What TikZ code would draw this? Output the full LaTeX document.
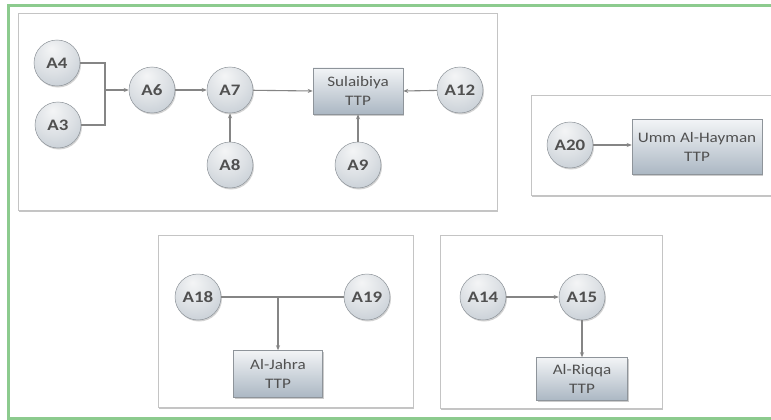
\documentclass[tikz,border=0pt]{standalone}
\usepackage{fontspec}
\setmainfont{Carlito}
\newfontfamily\widefont[FakeStretch=1.18]{Carlito}
\usetikzlibrary{shadows,arrows.meta}
\definecolor{frameg}{HTML}{8CCB8E}
\definecolor{boxline}{HTML}{C4C4C4}
\definecolor{linkc}{HTML}{858585}
\definecolor{txt}{HTML}{505050}
\definecolor{ballA}{HTML}{F4F5F6}
\definecolor{ballB}{HTML}{DCE0E4}
\definecolor{ballC}{HTML}{BCC5CE}
\definecolor{ballD}{HTML}{A4ADB7}
\definecolor{ttpTop}{HTML}{F2F4F6}
\definecolor{ttpBot}{HTML}{ABB7C3}
\definecolor{rimc}{HTML}{8E949A}
\pgfdeclareradialshading{myball}{\pgfpoint{-6bp}{16bp}}{color(0bp)=(ballA); color(22bp)=(ballB); color(44bp)=(ballC); color(58bp)=(ballD); color(70bp)=(ballD)}
\tikzset{
  panel/.style={draw=boxline, line width=0.8pt, fill=white, drop shadow={shadow xshift=1pt, shadow yshift=-2pt, opacity=0.45, fill=gray}},
  ball/.style={circle, minimum size=46pt, inner sep=0pt, draw=rimc, line width=0.5pt, shading=myball, text=txt, font=\widefont\fontsize{16}{16}\selectfont\bfseries, drop shadow={shadow xshift=1pt, shadow yshift=-1.5pt, opacity=0.35}},
  ttp/.style={rectangle, draw=rimc, line width=0.5pt, top color=ttpTop, bottom color=ttpBot, text=txt, font=\widefont\fontsize{14.5}{19}\selectfont, align=center, inner sep=2pt, drop shadow={shadow xshift=1.2pt, shadow yshift=-1.5pt, opacity=0.4}},
  link/.style={draw=linkc, line width=1.1pt, -{Stealth[length=5pt,width=4pt]}},
  plain/.style={draw=linkc, line width=1.1pt}
}
\begin{document}
\begin{tikzpicture}[x=1pt,y=-1pt]
\useasboundingbox (0,0) rectangle (771,420);
\fill[white] (0,0) rectangle (771,420);
% panels
\path[panel] (18,13) rectangle (497,210);
\path[panel] (531,95) rectangle (780,195);
\path[panel] (158,235) rectangle (413,407);
\path[panel] (440,235) rectangle (662,408);
% frame
\draw[frameg, line width=2.6pt] (780,5.5) -- (8.5,5.5) -- (8.5,418.5) -- (780,418.5);
% panel 1
\node[ball] (A4) at (57,63) {A4};
\node[ball] (A3) at (58,125) {A3};
\node[ball] (A6) at (152,90) {A6};
\node[ball] (A7) at (230,90) {A7};
\node[ball] (A8) at (230,165) {A8};
\node[ttp, minimum width=90pt, minimum height=46pt] (Sul) at (358,91) {Sulaibiya\\TTP};
\node[ball] (A12) at (460,90) {A12};
\node[ball] (A9) at (358,165) {A9};
\coordinate (j1) at (105,90);
\draw[plain] (A4.east) -| (j1);
\draw[plain] (A3.east) -| (j1);
\draw[link] (j1) -- (A6.west);
\draw[link] (A6) -- (A7);
\draw[link] (A7) -- (Sul.west);
\draw[link] (A8) -- (A7);
\draw[link] (A9) -- (Sul.south);
\draw[link] (A12) -- (Sul.east);
% panel 2
\node[ball] (A20) at (570,145) {A20};
\node[ttp, minimum width=130pt, minimum height=55pt] (Umm) at (697,147) {Umm Al-Hayman\\TTP};
\draw[link] (A20) -- (A20 -| Umm.west);
% panel 3
\node[ball] (A18) at (198,297) {A18};
\node[ball] (A19) at (367,297) {A19};
\node[ttp, minimum width=89pt, minimum height=47pt] (Jah) at (278,374) {Al-Jahra\\TTP};
\coordinate (j2) at (Jah.north |- A18);
\draw[plain] (A18) -- (A19);
\draw[link] (j2) -- (Jah.north);
% panel 4
\node[ball] (A14) at (483,297) {A14};
\node[ball] (A15) at (582,297) {A15};
\node[ttp, minimum width=91pt, minimum height=43pt] (Riq) at (582,379) {Al-Riqqa\\TTP};
\draw[link] (A14) -- (A15);
\draw[link] (A15) -- (Riq.north);
\end{tikzpicture}
\end{document}
